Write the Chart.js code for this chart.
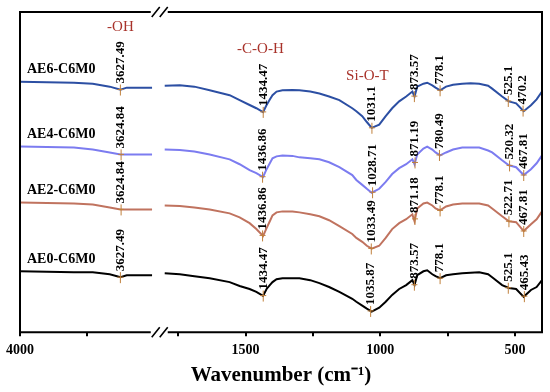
<!DOCTYPE html>
<html>
<head>
<meta charset="utf-8">
<script src="https://cdn.jsdelivr.net/npm/chart.js@4"></script>
<style>
  body { margin: 0; background: #fff; }
  canvas { display: block; }
</style>
</head>
<body>
<canvas id="ftir" width="550" height="392"></canvas>
<script>
// ===============================
// Data
// ===============================
// wavenumbers, cm-1 (left segment before the axis break, right segment after it)
const wnLeft = [4000, 3900, 3800, 3730, 3667, 3627, 3604, 3560, 3510];
const wnRight = [1800, 1744, 1690, 1633, 1559, 1522, 1485, 1460, 1435, 1422, 1410, 1400, 1385, 1363, 1326, 1300,
  1260, 1226, 1190, 1152, 1104, 1089, 1067, 1050, 1032, 1004, 980, 956, 930, 904, 881, 873, 863, 840, 826, 807,
  795, 778, 756, 730, 696, 665, 633, 600, 585, 548, 523, 496, 468, 441, 420, 400];

// transmittance with vertical offsets (a.u.)
const ae6Left = [255, 254.5, 254, 253, 250, 247, 249, 249, 249];
const ae6Right = [251, 251.5, 250, 246.3, 241.3, 236.3, 231.3, 228, 224, 231.3, 237, 241.3, 245, 246.3, 246.5, 246.3,
  245, 243, 240, 236.3, 228, 225, 220, 214, 208, 211.3, 220, 228, 235, 240, 245, 240, 250, 253, 254, 251.3,
  249, 246.3, 250, 252, 253, 253.5, 253, 251, 248, 240, 235, 233, 225, 231, 237, 245];

const ae4Left = [189, 188.5, 188, 186, 183, 181, 181, 181, 181];
const ae4Right = [186, 185.5, 184, 181, 176, 171, 165, 162, 158, 166, 172, 177, 179, 180, 179.5, 178,
  177, 176, 173, 168, 160, 155, 150, 146, 142, 146, 153, 161, 167, 171, 176, 171, 181, 187, 189, 186,
  183, 180, 183, 186, 188, 188, 188, 185, 183, 175, 170, 168, 160, 166, 172, 180];

const ae2Left = [132, 131.5, 131, 130, 127, 125, 125, 125, 125];
const ae2Right = [129, 128.5, 127, 125, 121, 117, 111, 105, 98, 106, 113, 119, 122, 123, 123, 122,
  120, 118, 114, 108, 100, 96, 92, 88, 85, 88, 96, 105, 111, 115, 120, 113, 126, 131, 132, 129,
  126, 124, 128, 130, 131, 131, 131, 129, 126, 118, 113, 112, 103, 110, 115, 123];

const ae0Left = [62, 61.5, 61, 61, 59, 56, 58, 58, 58];
const ae0Right = [60, 59, 57, 55, 51, 47, 44, 41, 37, 44, 48, 51, 54, 55, 55, 55,
  53, 50, 46, 41, 34, 31, 27, 24, 21, 25, 31, 38, 44, 48, 53, 48, 58, 62, 63, 59,
  57, 55, 58, 59, 60, 60.5, 61, 59, 56, 48, 45, 44, 36, 43, 46, 53];

const seriesNames = ["AE6-C6M0", "AE4-C6M0", "AE2-C6M0", "AE0-C6M0"];
const seriesColors = ["#2c4fa3", "#7c7cf0", "#c0735f", "#000000"];

// peak labels per series
const peaksAE6 = ["3627.49", "1434.47", "1031.1", "873.57", "778.1", "525.1", "470.2"];
const peaksAE4 = ["3624.84", "1436.86", "1028.71", "871.19", "780.49", "520.32", "467.81"];
const peaksAE2 = ["3624.84", "1436.86", "1033.49", "871.18", "778.1", "522.71", "467.81"];
const peaksAE0 = ["3627.49", "1434.47", "1035.87", "873.57", "778.1", "525.1", "465.43"];

const groupNames = ["-OH", "-C-O-H", "Si-O-T"];
const groupWn = [3627.49, 1445, 1048];

const tickWn = [4000, 3750, 1750, 1500, 1250, 1000, 750, 500];
const tickLabelWn = [4000, 1500, 1000, 500];

// ===============================
// Broken axis helpers
// ===============================
const GAP = 37; // width of the break, in axis units
function toU(w) {
  return w >= 3000 ? 4000 - w : 500 + GAP + (1800 - w);
}
function fromU(u) {
  return u <= 500 ? 4000 - u : 1800 - (u - 500 - GAP);
}

const lefts = [ae6Left, ae4Left, ae2Left, ae0Left];
const rights = [ae6Right, ae4Right, ae2Right, ae0Right];
const peaks = [peaksAE6, peaksAE4, peaksAE2, peaksAE0];

function buildPoints(i) {
  const pts = wnLeft.map((w, k) => ({ x: toU(w), y: lefts[i][k] }));
  pts.push({ x: 500 + GAP / 2, y: null });
  wnRight.forEach((w, k) => pts.push({ x: toU(w), y: rights[i][k] }));
  return pts;
}

// value of series i at wavenumber w (linear interpolation)
function valueAt(i, w) {
  const xs = w >= 3000 ? wnLeft : wnRight;
  const ys = w >= 3000 ? lefts[i] : rights[i];
  for (let k = 0; k < xs.length - 1; k++) {
    if (w <= xs[k] && w >= xs[k + 1]) {
      const t = (xs[k] - w) / (xs[k] - xs[k + 1]);
      return ys[k] + t * (ys[k + 1] - ys[k]);
    }
  }
  return ys[ys.length - 1];
}

const SERIF = '"Liberation Serif", "Times New Roman", serif';

// ===============================
// Annotation + frame plugin
// ===============================
const decorPlugin = {
  id: "decor",
  afterDatasetsDraw(chart) {
    const { ctx, chartArea: a, scales } = chart;
    const xs = scales.x, ys = scales.y;
    ctx.save();

    // peak markers + rotated labels
    peaks.forEach((list, i) => {
      list.forEach((lab) => {
        const w = parseFloat(lab);
        const px = xs.getPixelForValue(toU(w));
        const py = ys.getPixelForValue(valueAt(i, w));
        ctx.strokeStyle = "#c0803c";
        ctx.lineWidth = 1;
        ctx.beginPath();
        ctx.moveTo(px, py - 5);
        ctx.lineTo(px, py + 6);
        ctx.moveTo(px - 3, py);
        ctx.lineTo(px + 3, py);
        ctx.stroke();

        ctx.save();
        ctx.translate(px, py - 6);
        ctx.rotate(-Math.PI / 2);
        ctx.fillStyle = "#000";
        ctx.font = `bold 13px ${SERIF}`;
        ctx.textAlign = "left";
        ctx.textBaseline = "middle";
        ctx.fillText(lab, 0, 0);
        ctx.restore();
      });
    });

    // series names
    ctx.fillStyle = "#000";
    ctx.font = `bold 14px ${SERIF}`;
    ctx.textAlign = "left";
    ctx.textBaseline = "middle";
    seriesNames.forEach((name, i) => {
      const py = ys.getPixelForValue(lefts[i][0]);
      ctx.fillText(name, a.left + 7, py - 12);
    });

    // group labels above the top spectrum
    const lifts = [62, 62, 47];
    ctx.fillStyle = "#a8322a";
    ctx.font = `15px ${SERIF}`;
    ctx.textAlign = "center";
    groupNames.forEach((g, k) => {
      const px = xs.getPixelForValue(toU(groupWn[k]));
      const py = ys.getPixelForValue(valueAt(0, groupWn[k])) - lifts[k];
      ctx.fillText(g, px, py);
    });

    // frame with axis break
    const xb = xs.getPixelForValue(500 + GAP / 2);
    ctx.strokeStyle = "#000";
    ctx.lineWidth = 2;
    ctx.beginPath();
    [a.top, a.bottom].forEach((y) => {
      ctx.moveTo(a.left, y);
      ctx.lineTo(xb - 9, y);
      ctx.moveTo(xb + 8, y);
      ctx.lineTo(a.right, y);
    });
    ctx.moveTo(a.left, a.top - 1);
    ctx.lineTo(a.left, a.bottom + 1);
    ctx.moveTo(a.right, a.top - 1);
    ctx.lineTo(a.right, a.bottom + 1);
    ctx.stroke();

    ctx.lineWidth = 1.6;
    ctx.beginPath();
    [a.top, a.bottom].forEach((y) => {
      [-4, 4].forEach((d) => {
        ctx.moveTo(xb + d - 4, y + 5);
        ctx.lineTo(xb + d + 4, y - 5);
      });
    });
    ctx.stroke();

    ctx.restore();
  },
};

// ===============================
// Chart
// ===============================
const chart = new Chart(document.getElementById("ftir"), {
  type: "line",
  data: {
    datasets: seriesNames.map((name, i) => ({
      label: name,
      data: buildPoints(i),
      borderColor: seriesColors[i],
      borderWidth: 2,
      pointRadius: 0,
      tension: 0,
      spanGaps: false,
    })),
  },
  options: {
    responsive: false,
    animation: false,
    layout: { padding: { left: 20, right: 8, top: 12, bottom: 6 } },
    plugins: { legend: { display: false }, tooltip: { enabled: false } },
    scales: {
      x: {
        type: "linear",
        min: 0,
        max: toU(400),
        afterBuildTicks: (scale) => {
          scale.ticks = tickWn.map((w) => ({ value: toU(w) }));
        },
        grid: { drawOnChartArea: false, drawTicks: true, tickLength: 4, color: "#000", lineWidth: 2 },
        border: { display: false },
        ticks: {
          autoSkip: false,
          maxRotation: 0,
          padding: 6,
          color: "#000",
          font: { family: SERIF, size: 14, weight: "bold" },
          callback: (v) => {
            const w = Math.round(fromU(v));
            return tickLabelWn.includes(w) ? String(w) : "";
          },
        },
        title: {
          display: true,
          text: "Wavenumber (cm\u207B\u00B9)",
          color: "#000",
          padding: { top: 0, bottom: 0 },
          font: { family: SERIF, size: 21, weight: "bold", lineHeight: 1 },
        },
      },
      y: { display: false, min: 0, max: 326 },
    },
  },
  plugins: [decorPlugin],
});
</script>
</body>
</html>
